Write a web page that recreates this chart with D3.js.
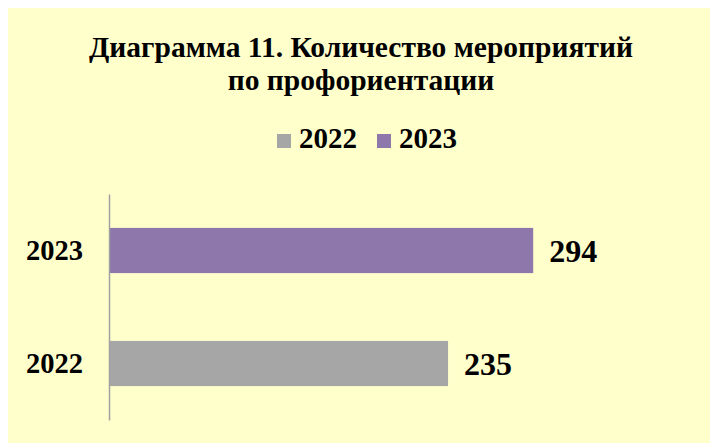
<!DOCTYPE html>
<html>
<head>
<meta charset="utf-8">
<script src="https://cdn.jsdelivr.net/npm/d3@7"></script>
<style>
  body { margin: 0; background: #fff; }
  text { font-family: "Liberation Serif", "Times New Roman", serif; font-weight: bold; fill: #000; }
</style>
</head>
<body>
<svg width="710" height="443"></svg>
<script>
// Data
var categories = ["2022", "2023"];
var values = [235, 294];
var colors = ["#a6a6a6", "#8e78ab"];
var titleLines = ["Диаграмма 11. Количество мероприятий", "по профориентации"];

var svg = d3.select("svg"),
    width = +svg.attr("width"),
    height = +svg.attr("height");

// Chart background
svg.append("rect")
    .attr("x", 8).attr("y", 8)
    .attr("width", width - 8).attr("height", height - 8)
    .attr("fill", "#ffffcc");

// Title
svg.append("g").selectAll("text")
    .data(titleLines)
    .enter().append("text")
    .attr("x", 361)
    .attr("y", function (d, i) { return 57 + i * 33; })
    .attr("text-anchor", "middle")
    .style("font-size", "29.5px")
    .text(function (d) { return d; });

// Scales
var x = d3.scaleLinear()
    .domain([0, 350])
    .range([109, 614]);
var y = d3.scaleBand()
    .domain(categories.slice().reverse())
    .range([194, 420])
    .paddingInner(0.6)
    .paddingOuter(0.3);

// Legend
var legendItems = [
  { label: categories[0], color: colors[0], x: 277 },
  { label: categories[1], color: colors[1], x: 377 }
];
var lg = svg.append("g").attr("class", "legend");
lg.selectAll("rect")
    .data(legendItems)
    .enter().append("rect")
    .attr("x", function (d) { return d.x; })
    .attr("y", 134)
    .attr("width", 14).attr("height", 14)
    .attr("fill", function (d) { return d.color; });
lg.selectAll("text")
    .data(legendItems)
    .enter().append("text")
    .attr("x", function (d) { return d.x + 22; })
    .attr("y", 148)
    .style("font-size", "29px")
    .text(function (d) { return d.label; });

// Bars
svg.append("g").selectAll("rect")
    .data(categories)
    .enter().append("rect")
    .attr("x", x(0))
    .attr("y", function (d) { return y(d); })
    .attr("width", function (d, i) { return x(values[i]) - x(0); })
    .attr("height", y.bandwidth())
    .attr("fill", function (d, i) { return colors[i]; });

// Value labels
svg.append("g").selectAll("text")
    .data(categories)
    .enter().append("text")
    .attr("x", function (d, i) { return x(values[i]) + 16; })
    .attr("y", function (d) { return y(d) + y.bandwidth() / 2; })
    .attr("dy", "0.35em")
    .style("font-size", "32px")
    .text(function (d, i) { return values[i]; });

// Category axis
var axis = svg.append("g")
    .attr("transform", "translate(" + x(0) + ",0)")
    .call(d3.axisLeft(y).tickSize(0).tickPadding(26));
axis.select(".domain").attr("stroke", "#a0a0a0").attr("stroke-width", 1.5);
axis.selectAll(".tick text")
    .style("font-size", "28.5px")
    .style("font-family", "'Liberation Serif', serif")
    .attr("fill", "#000");
</script>
</body>
</html>
